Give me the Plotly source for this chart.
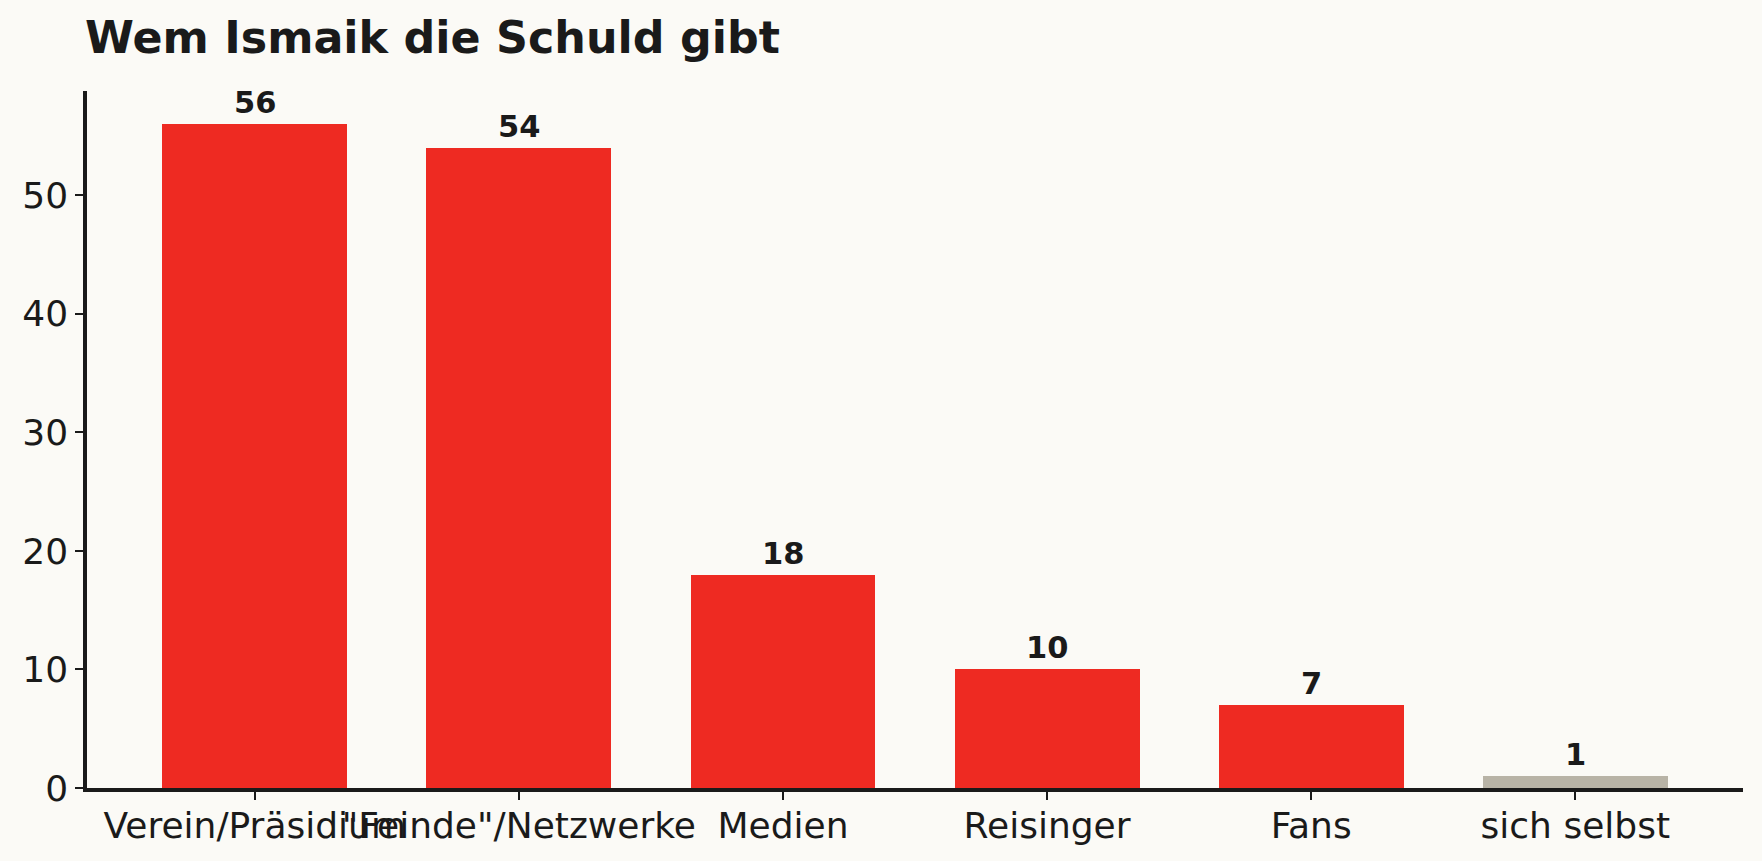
import plotly.graph_objects as go

categories = ["Verein/Präsidium", "\"Feinde\"/Netzwerke", "Medien", "Reisinger", "Fans", "sich selbst"]
values = [56, 54, 18, 10, 7, 1]
bar_colors = ["#EE2A22", "#EE2A22", "#EE2A22", "#EE2A22", "#EE2A22", "#B8B3A6"]
y_ticks = [0, 10, 20, 30, 40, 50]

W, H = 1762, 861
BG = "#FBFAF6"
INK = "#1a1a1a"
FONT = "DejaVu Sans"

x_idx = list(range(len(categories)))

fig = go.Figure()
fig.add_trace(go.Bar(
    x=x_idx, y=values, width=0.7,
    marker=dict(color=bar_colors, line=dict(width=0)),
    hoverinfo="skip",
))

for i, v in zip(x_idx, values):
    fig.add_annotation(
        x=i, y=v, xref="x", yref="y", text=f"<b>{v}</b>",
        showarrow=False, yanchor="bottom", yshift=2,
        font=dict(family=FONT, size=30.5, color=INK),
    )

fig.update_layout(
    width=W, height=H,
    paper_bgcolor=BG, plot_bgcolor=BG,
    margin=dict(l=87, r=19, t=91, b=73),
    showlegend=False,
    bargap=0,
    title=dict(
        text="<b>Wem Ismaik die Schuld gibt</b>",
        x=85 / W, xanchor="left", xref="container",
        y=1 - 22 / H, yanchor="top", yref="container",
        font=dict(family=FONT, size=44.4, color=INK),
    ),
    font=dict(family=FONT, color=INK),
)

fig.update_xaxes(
    range=[-0.635, 5.635],
    tickmode="array", tickvals=x_idx, ticktext=categories, tickangle=0,
    showline=True, linecolor=INK, linewidth=3.5,
    ticks="outside", ticklen=8, tickwidth=2, tickcolor=INK,
    showgrid=False, zeroline=False,
    ticklabelstandoff=-5,
    tickfont=dict(family=FONT, size=36, color=INK),
)
fig.update_yaxes(
    range=[0, 58.8],
    tickmode="array", tickvals=y_ticks,
    showline=True, linecolor=INK, linewidth=3.5,
    ticks="outside", ticklen=8, tickwidth=2, tickcolor=INK,
    showgrid=False, zeroline=False,
    tickfont=dict(family=FONT, size=36, color=INK),
)

fig.write_html("out.html")
